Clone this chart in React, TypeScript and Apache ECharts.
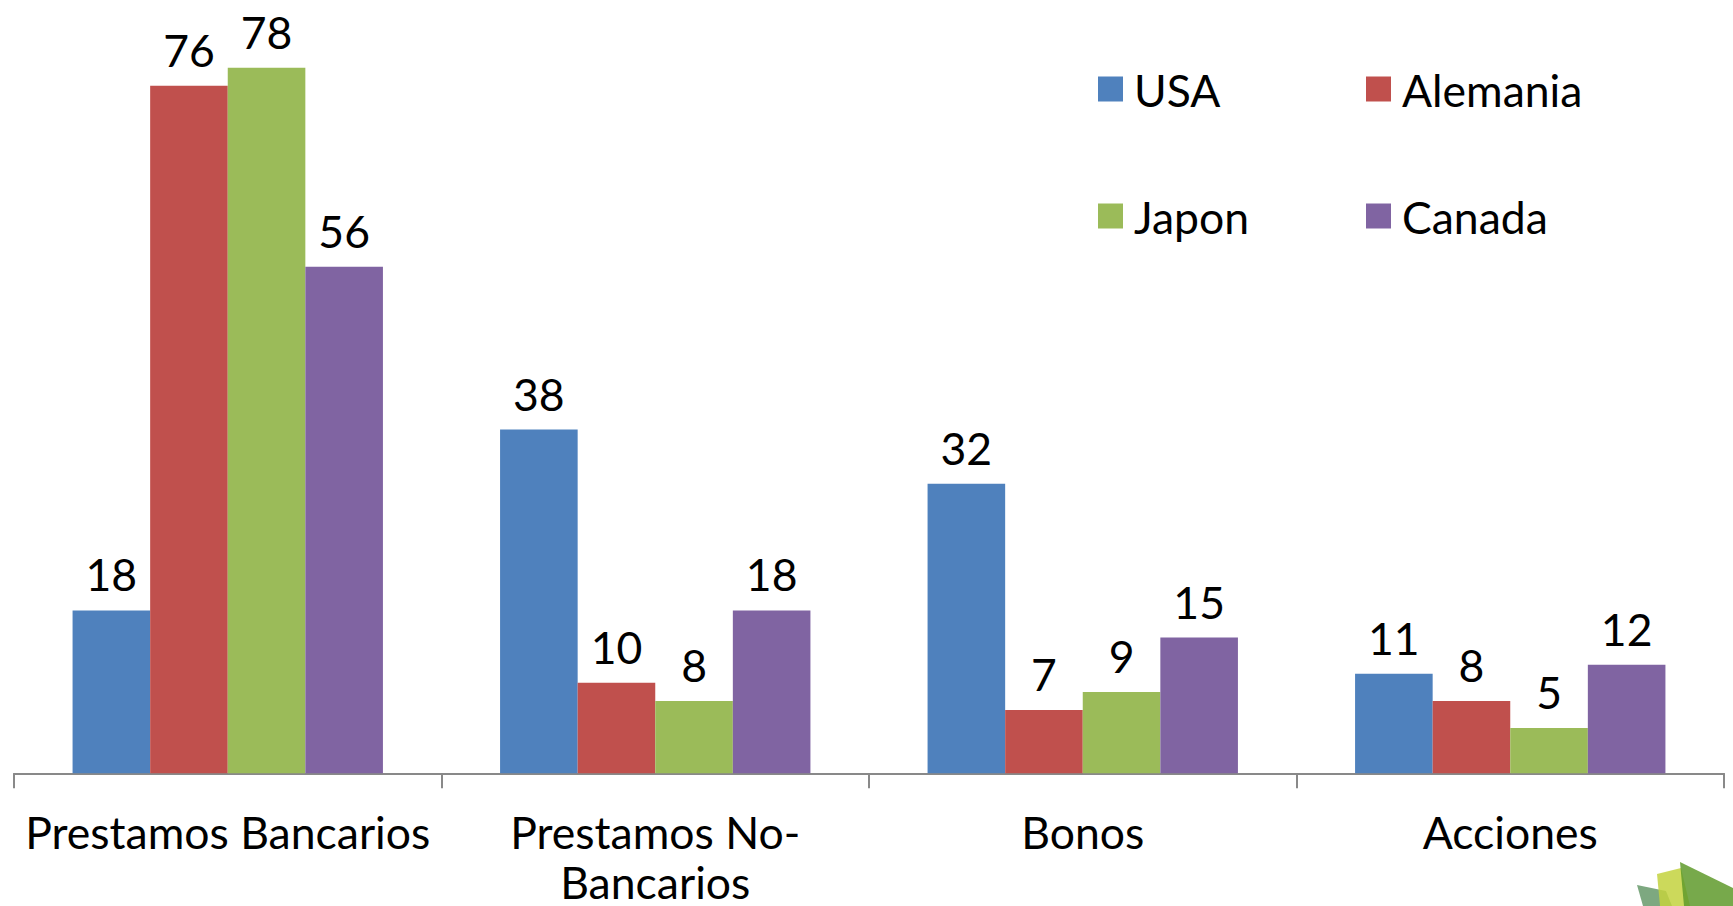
import React, { useEffect, useRef } from "react";
import * as echarts from "echarts";

const categories = ["Prestamos Bancarios", "Prestamos No-\nBancarios", "Bonos", "Acciones"];
const seriesNames = ["USA", "Alemania", "Japon", "Canada"];
const usa = [18, 38, 32, 11];
const alemania = [76, 10, 7, 8];
const japon = [78, 8, 9, 5];
const canada = [56, 18, 15, 12];
const colors = ["#4F81BD", "#C0504D", "#9BBB59", "#8064A2"];

const FONT = "Lato";
const FS = 44.5;

export default function App() {
  const ref = useRef<HTMLDivElement>(null);
  useEffect(() => {
    if (!ref.current) return;
    const chart = echarts.init(ref.current, undefined, { renderer: "svg" });
    const values = [usa, alemania, japon, canada];
    const legendPos = [
      { left: 1098, top: 64 },
      { left: 1366, top: 64 },
      { left: 1098, top: 191 },
      { left: 1366, top: 191 },
    ];
    chart.setOption({
      animation: false,
      color: colors,
      grid: {
        left: 14,
        right: 9,
        top: 49.6,
        bottom: 132.7,
        containLabel: false,
        outerBoundsMode: "none",
      },
      legend: seriesNames.map((n, i) => ({
        data: [n],
        left: legendPos[i].left,
        top: legendPos[i].top,
        icon: "rect",
        itemWidth: 25,
        itemHeight: 25,
        padding: 0,
        textStyle: {
          fontFamily: FONT,
          fontSize: FS,
          color: "#000",
          lineHeight: 50,
          padding: [0, 0, 0, 6],
        },
      })),
      xAxis: {
        type: "category",
        data: categories,
        axisLine: { lineStyle: { color: "#898989", width: 2 } },
        axisTick: { show: true, length: 15, lineStyle: { color: "#898989", width: 2 } },
        axisLabel: {
          interval: 0,
          margin: 33,
          fontFamily: FONT,
          fontSize: FS,
          color: "#000",
          lineHeight: 50,
        },
      },
      yAxis: { type: "value", min: 0, max: 80, show: false, splitLine: { show: false } },
      series: seriesNames.map((n, i) => ({
        name: n,
        type: "bar",
        data: values[i],
        barGap: "0%",
        barCategoryGap: "27.4%",
        itemStyle: { color: colors[i] },
        label: {
          show: true,
          position: "top",
          distance: 14,
          fontFamily: FONT,
          fontSize: FS,
          color: "#000",
        },
      })),
      graphic: [
        {
          type: "polygon",
          shape: { points: [[1637, 885], [1666, 891], [1672, 906], [1643, 906]] },
          style: { fill: "#6f9e72", opacity: 0.9 },
        },
        {
          type: "polygon",
          shape: { points: [[1657, 874], [1681, 868], [1690, 906], [1660, 906]] },
          style: { fill: "#c3d23e", opacity: 0.85 },
        },
        {
          type: "polygon",
          shape: { points: [[1680, 862], [1733, 888], [1733, 906], [1684, 906]] },
          style: { fill: "#5f9a2c", opacity: 0.85 },
        },
      ],
    });
    return () => chart.dispose();
  }, []);
  return (
    <div
      ref={ref}
      style={{ position: "fixed", left: 0, top: 0, width: 1733, height: 906, background: "#fff" }}
    />
  );
}
